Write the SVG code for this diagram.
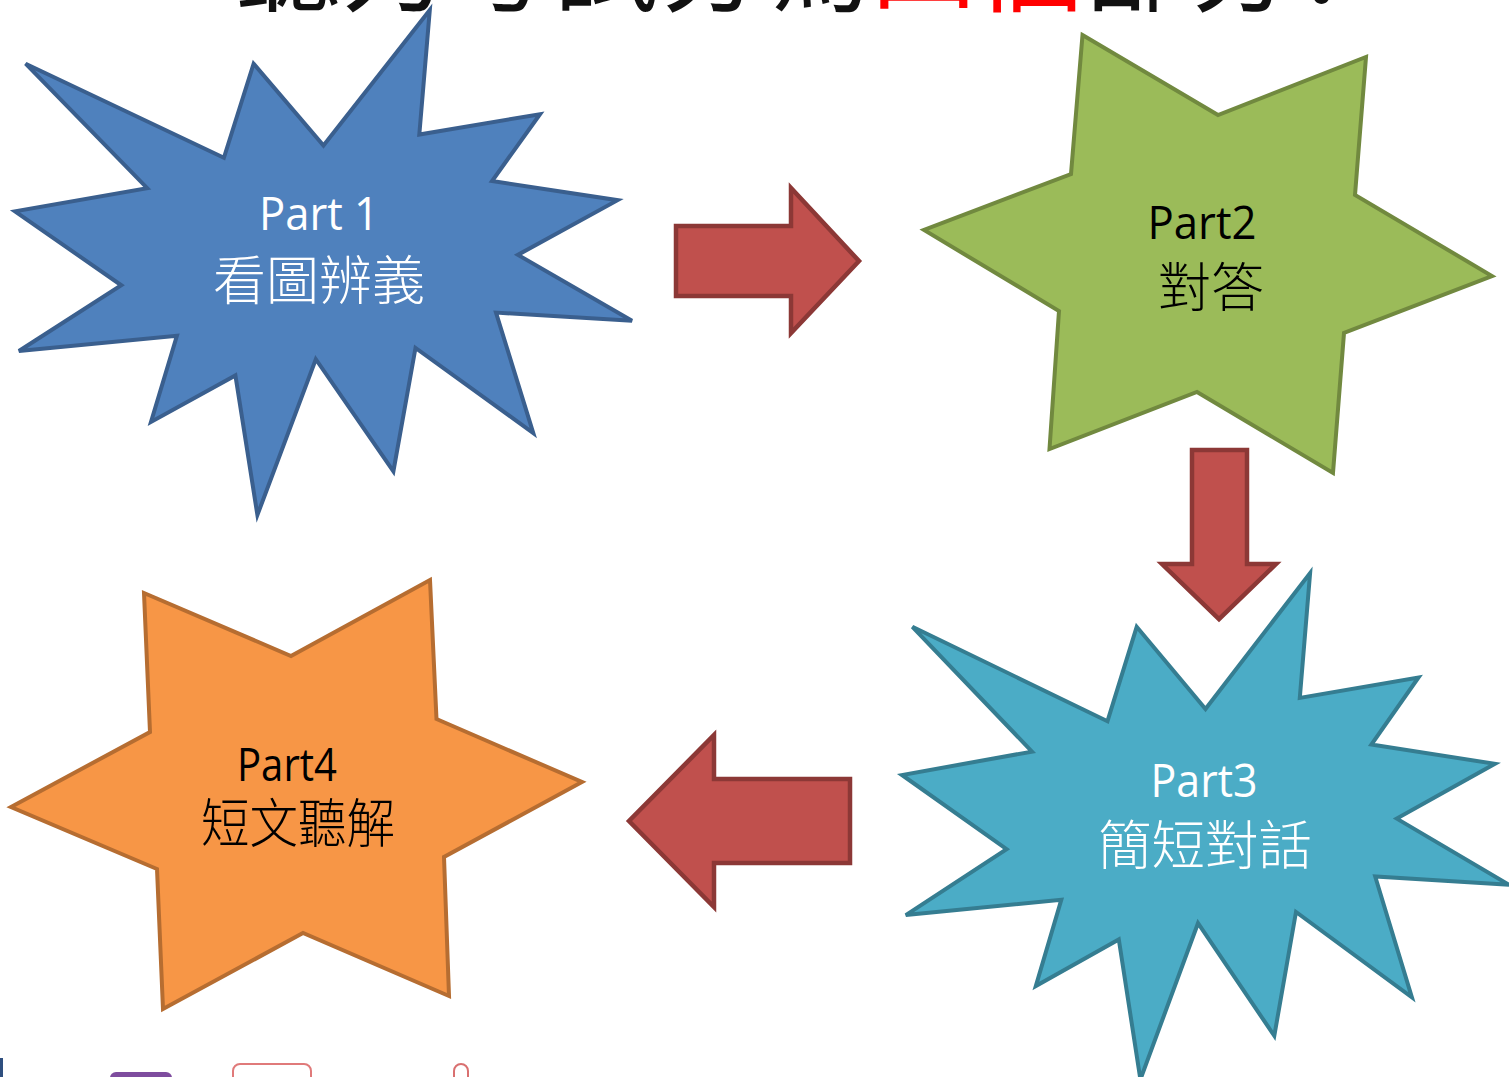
<svg xmlns="http://www.w3.org/2000/svg" width="1509" height="1077" viewBox="0 0 1509 1077">
<style>
.title{font-family:"Noto Sans CJK TC","Noto Sans CJK SC",sans-serif;font-size:106px;fill:#111111}
.lat{font-family:"Open Sans","Noto Sans",sans-serif;font-size:46px;text-anchor:middle}
.cjk{font-family:"Noto Sans CJK TC","Noto Sans CJK SC",sans-serif;font-size:53px;font-weight:300;text-anchor:middle}
.star{stroke-width:4;stroke-linejoin:miter}
.arrow{fill:#C0504D;stroke:#8C3836;stroke-width:4.5;stroke-linejoin:miter}
</style>
<rect x="0" y="0" width="1509" height="1077" fill="#FFFFFF"/>
<text class="title" x="235" y="3">聽力考試分為<tspan fill="#FF0000">四個</tspan>部分<tspan font-family="'Noto Sans CJK SC','Noto Sans CJK TC',sans-serif">：</tspan></text>
<g id="connectors">
<path class="arrow" d="M676,226 L791,226 L791,188 L859,261 L791,333 L791,296 L676,296 Z"/>
<path class="arrow" d="M1192,450 L1247,450 L1247,564 L1276,564 L1219,619 L1162,564 L1192,564 Z"/>
<path class="arrow" d="M850,779 L714,779 L714,735 L629,821 L714,907 L714,863 L850,863 Z"/>
</g>
<g id="part1">
<polygon class="star" fill="#4F81BD" stroke="#3A5F8E" points="323.5,145.6 429.8,10 419.3,134.5 540,114.2 492.1,181 617.6,200.2 517.9,254.9 632,320.7 496,312.6 533.3,433.1 415.5,348 393.4,471.4 315.8,359.2 257.4,515 235.4,375.4 151,421.9 176.9,335.8 18.9,351 121.3,285.3 15,211.4 147.2,188.1 25.6,63.7 223.9,157.8 253.6,63.7"/>
<text class="lat" x="319" y="230" fill="#FFFFFF" textLength="120" lengthAdjust="spacingAndGlyphs">Part 1</text>
<text class="cjk" x="319" y="300" fill="#FFFFFF" textLength="212" lengthAdjust="spacingAndGlyphs">看圖辨義</text>
</g>
<g id="part2">
<polygon class="star" fill="#9BBB59" stroke="#71893F" points="1082.5,35 1218,115 1366,57 1355,195 1492,276 1344,333 1333,473 1197,392 1049.5,449 1059,311 924,230 1071,174"/>
<text class="lat" x="1202" y="239" fill="#000000" textLength="109" lengthAdjust="spacingAndGlyphs">Part2</text>
<text class="cjk" x="1211" y="307" fill="#000000" textLength="106" lengthAdjust="spacingAndGlyphs">對答</text>
</g>
<g id="part3">
<polygon class="star" fill="#4BACC6" stroke="#357D91" points="1205.5,709 1310.1,573 1299.8,697.9 1418.5,677.5 1371.4,744.5 1494.9,763.8 1396.8,818.6 1509,884.7 1375.2,876.5 1411.9,997.3 1296,912 1274.3,1035.8 1198,923.2 1140.4,1079.5 1118.8,939.5 1035.8,986.1 1061.3,899.8 905.8,915.1 1006.6,849.1 902,775 1032,751.6 912.4,626.8 1107.5,721.2 1136.7,626.8"/>
<text class="lat" x="1204" y="797" fill="#FFFFFF" textLength="107" lengthAdjust="spacingAndGlyphs">Part3</text>
<text class="cjk" x="1205" y="865" fill="#FFFFFF" textLength="214" lengthAdjust="spacingAndGlyphs">簡短對話</text>
</g>
<g id="part4">
<polygon class="star" fill="#F79646" stroke="#B66D31" points="144,593 291,656 430,580 436.5,719 582,782 444,857 449,996 303,933 163,1009 157,869 11,807 150,732"/>
<text class="lat" x="287" y="781" fill="#000000" textLength="100" lengthAdjust="spacingAndGlyphs">Part4</text>
<text class="cjk" x="298" y="843" fill="#000000" textLength="194" lengthAdjust="spacingAndGlyphs">短文聽解</text>
</g>
<rect x="0" y="1058" width="3" height="19" fill="#2F4F7F"/>
<rect x="110" y="1072" width="62" height="12" rx="6" fill="#7E4C9E"/>
<rect x="233" y="1064" width="78" height="24" rx="7" fill="none" stroke="#E07A7A" stroke-width="2"/>
<rect x="454" y="1064" width="14" height="24" rx="7" fill="none" stroke="#D97070" stroke-width="2"/>
</svg>
